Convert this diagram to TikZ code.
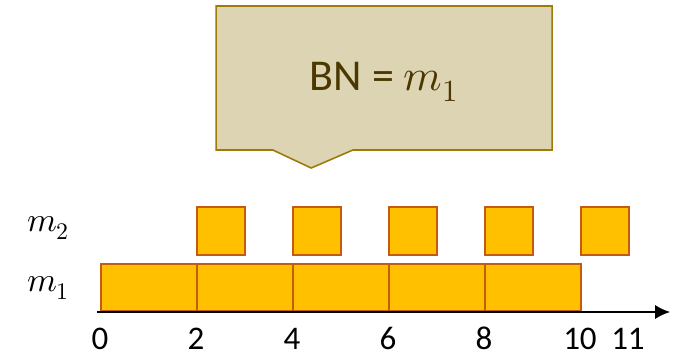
\documentclass[tikz,border=0pt]{standalone}
\usepackage{amsmath}
\usepackage{fontspec}
\usepackage{unicode-math}
\setmainfont{Carlito}
\setmathfont{Latin Modern Math}
\usepackage{tikz}
\usetikzlibrary{
    positioning,
    arrows.meta,
    calc,
}
\definecolor{barfill}{HTML}{FFC000}
\definecolor{barline}{HTML}{C55A11}
\definecolor{notefill}{HTML}{DDD4B4}
\definecolor{noteline}{HTML}{9C7B0A}
\definecolor{notetext}{HTML}{4A3800}
\tikzset{
    % Cell styles
    cell/.style={rectangle, draw=barline, fill=barfill, line width=1.6pt,
                 inner sep=0pt, anchor=south west},
    long cell/.style={cell, minimum width=96pt, minimum height=47pt},
    short cell/.style={cell, minimum width=48pt, minimum height=48pt},
    % Annotation styles
    tick label/.style={font=\fontsize{33}{33}\selectfont, inner sep=0pt, anchor=base},
    row label/.style={font=\fontsize{34}{34}\selectfont},
    axis arrow/.style={-{Latex[length=15pt, width=14pt]}, line width=1.8pt},
}

\begin{document}
\begin{tikzpicture}[x=48pt, y=48pt]
    \useasboundingbox (-2.083,-0.979) rectangle (12.167,6.5);

    % Callout
    \coordinate (tip) at (4.4,3.0);
    \draw[fill=notefill, draw=noteline, line width=1.6pt, line join=miter]
        (2.42,6.375) -- (9.42,6.375) -- (9.42,3.375) -- (5.27,3.375)
        -- (tip) -- (3.6,3.375) -- (2.42,3.375) -- cycle;
    \node[text=notetext, font=\fontsize{44}{44}\selectfont] (bn) at (5.92,4.8)
        {BN = $m_1$};

    % Rows
    \foreach \x [count=\i] in {0,2,4,6,8} {
        \node[long cell] (a\i) at (\x,0) {};
    }
    \foreach \x [count=\i] in {2,4,6,8,10} {
        \node[short cell] (b\i) at (\x,1.17) {};
    }

    % Axis
    \coordinate (origin) at (-0.06,0);
    \coordinate (end) at (11.88,0);
    \draw[axis arrow] (origin) -- (end);
    \foreach \x in {0,2,4,6,8,10,11} {
        \node[tick label] (t\x) at (\x,-0.79) {\x};
    }

    % Labels
    \node[row label] (m2) at (-1.08,1.75) {$m_2$};
    \node[row label] (m1) at (-1.08,0.5) {$m_1$};
\end{tikzpicture}
\end{document}
